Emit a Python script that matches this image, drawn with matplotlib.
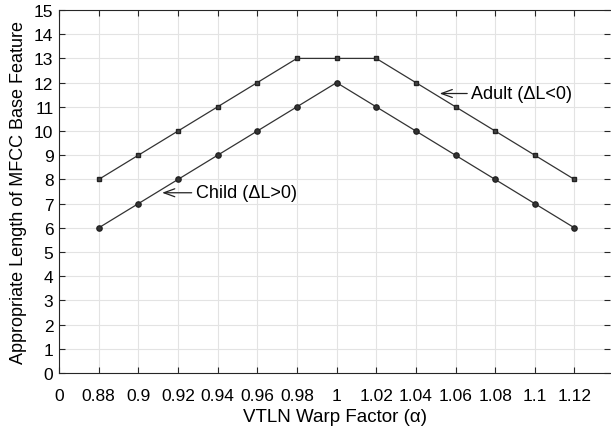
import matplotlib
matplotlib.use("Agg")
import matplotlib.pyplot as plt

plt.rcParams['font.family'] = ['Liberation Sans', 'DejaVu Sans']

warp_labels = ["0", "0.88", "0.9", "0.92", "0.94", "0.96", "0.98", "1", "1.02", "1.04", "1.06", "1.08", "1.1", "1.12"]
adult = [8, 9, 10, 11, 12, 13, 13, 13, 12, 11, 10, 9, 8]
child = [6, 7, 8, 9, 10, 11, 12, 11, 10, 9, 8, 7, 6]
pos = list(range(1, len(adult) + 1))

fig = plt.figure(figsize=(6.11, 4.31), dpi=100)
ax = fig.add_axes([0.0966, 0.132, 0.902, 0.8425])

ax.plot(pos, adult, color="#333333", lw=0.9, marker="s", ms=3.4, mfc="#444444", mec="#222222")
ax.plot(pos, child, color="#333333", lw=0.9, marker="o", ms=3.8, mfc="#333333", mec="#222222")

arrow = dict(arrowstyle="->, head_length=0.6, head_width=0.22", color="#222222", lw=0.9, shrinkA=1, shrinkB=0)
ax.annotate("Child (ΔL>0)", xy=(2.6, 7.45), xytext=(3.45, 7.45), fontsize=13, va="center", arrowprops=arrow)
ax.annotate("Adult (ΔL<0)", xy=(9.6, 11.55), xytext=(10.4, 11.55), fontsize=13, va="center", arrowprops=arrow)

ax.set_xlim(0, 13.9)
ax.set_ylim(0, 15)
ax.set_xticks(range(len(warp_labels)))
ax.set_xticklabels(warp_labels)
ax.set_yticks(range(0, 16))
ax.tick_params(direction="in", top=True, right=True, labelsize=12.5, length=4, color="#262626")
ax.tick_params(axis="x", pad=11)
ax.tick_params(axis="y", pad=4)
ax.grid(True, color="#e3e3e3", lw=0.8)
ax.set_axisbelow(True)
for s in ax.spines.values():
    s.set_color("#262626")
    s.set_linewidth(0.8)
ax.spines["right"].set_visible(False)

ax.set_xlabel("VTLN Warp Factor (α)", fontsize=13.5, labelpad=3)
ax.set_ylabel("Appropriate Length of MFCC Base Feature", fontsize=13, labelpad=5)

fig.savefig("out.png", dpi=100)
